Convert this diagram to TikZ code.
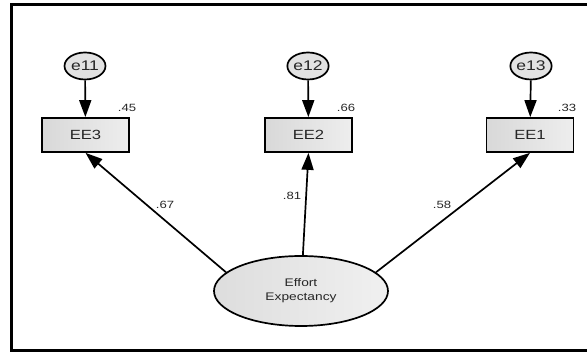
\documentclass[tikz,border=0pt]{standalone}
\usepackage{fontspec}
\setmainfont{Liberation Sans}[FakeStretch=1.25]
\usetikzlibrary{arrows.meta,shapes.geometric}
\definecolor{ink}{HTML}{262626}
\definecolor{boxfill}{HTML}{E2E2E2}
\begin{document}
\begin{tikzpicture}[x=1pt,y=-1pt,
  errvar/.style={ellipse, draw, line width=1.7pt, minimum width=41pt, minimum height=27pt,
    inner sep=0pt, fill=boxfill, text=ink, font=\fontsize{14}{15}\selectfont},
  obsvar/.style={rectangle, draw, line width=1.7pt, minimum width=87pt, minimum height=34pt,
    inner sep=0pt, left color=boxfill!90!gray, right color=boxfill!60!white, text=ink,
    font=\fontsize{13.3}{14}\selectfont},
  latent/.style={ellipse, draw, line width=1.7pt, minimum width=174pt, minimum height=70pt,
    inner sep=0pt, left color=boxfill!95!gray, right color=boxfill!50!white, text=ink,
    align=center, font=\fontsize{11}{14}\selectfont},
  coef/.style={text=ink, inner sep=0pt, font=\fontsize{10.5}{11}\selectfont},
  path/.style={line width=1.7pt, -{Triangle[length=17pt,width=12pt]}}
]
\useasboundingbox (0,0) rectangle (587,352);
% outer frame, open to the right
\draw[line width=3pt] (600,4.5) -- (11,4.5) -- (11,350.5) -- (600,350.5);

% error terms
\node[errvar] (e11) at (85,66) {e11};
\node[errvar] (e12) at (308,66) {e12};
\node[errvar] (e13) at (531,66) {e13};

% observed indicators
\node[obsvar] (EE3) at (85.5,135) {EE3};
\node[obsvar] (EE2) at (308.5,135) {EE2};
\node[obsvar] (EE1) at (530,135) {EE1};

% latent construct
\node[latent] (EE) at (301,291) {Effort\\Expectancy};

% error paths
\draw[path] (e11) -- (EE3);
\draw[path] (e12) -- (EE2);
\draw[path] (e13) -- (EE1);

% factor loadings
\draw[path] (EE.166) -- (EE3.south);
\draw[path] (EE.87) -- (EE2.south);
\draw[path] (EE.14) -- (EE1.south);

% squared multiple correlations
\node[coef] (r3) at (127,108) {.45};
\node[coef] (r2) at (346,108) {.66};
\node[coef] (r1) at (567,108) {.33};

% standardized loadings
\node[coef] (l3) at (165,205) {.67};
\node[coef] (l2) at (292,196) {.81};
\node[coef] (l1) at (442,205) {.58};
\end{tikzpicture}
\end{document}
